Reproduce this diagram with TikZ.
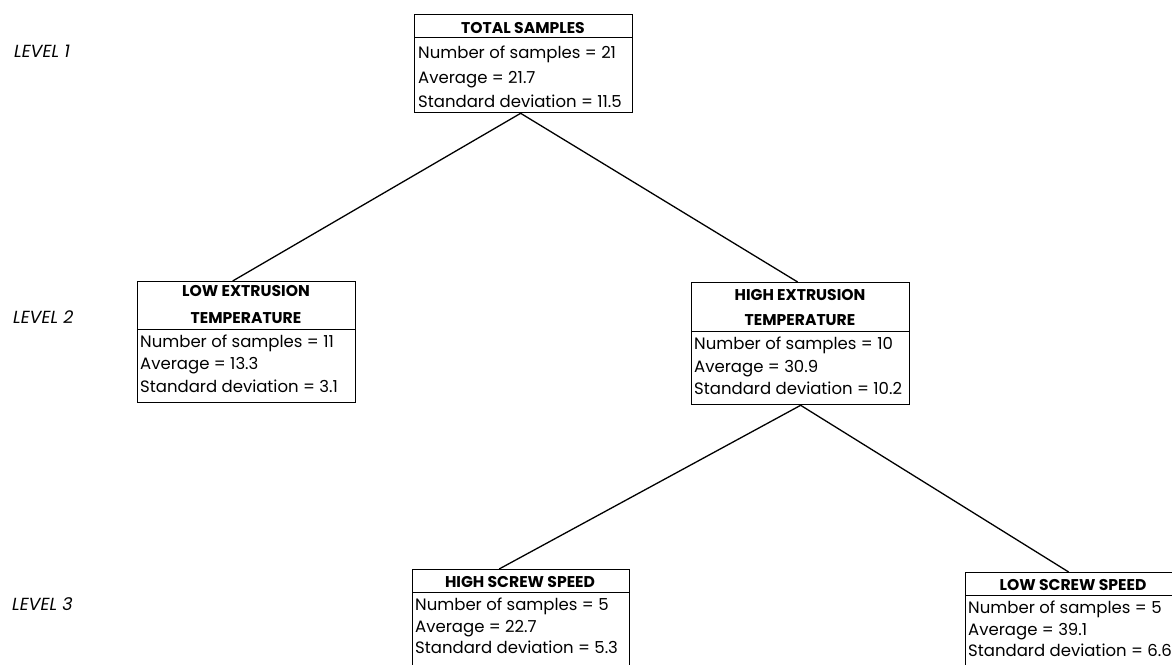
\documentclass[tikz,border=0pt]{standalone}
\usepackage{fontspec}
\setmainfont{Poppins}
\begin{document}
\begin{tikzpicture}[x=1pt,y=-1pt,
  box/.style={draw, line width=1.3pt, inner sep=0pt, anchor=north west},
  divider/.style={line width=1pt},
  head/.style={font=\bfseries\fontsize{15.6}{18}\selectfont, inner sep=0pt, anchor=base},
  body/.style={font=\fontsize{16.5}{18}\selectfont, inner sep=0pt, anchor=base west},
  lvl/.style={font=\itshape\fontsize{17.5}{19}\selectfont, inner sep=0pt, anchor=base west},
  link/.style={line width=1.3pt}]
\useasboundingbox (0,0) rectangle (1172,664);
\clip (0,0) rectangle (1172,664);

% level labels
\node[lvl] (l1) at (14,57) {LEVEL 1};
\node[lvl] (l2) at (13,323) {LEVEL 2};
\node[lvl] (l3) at (12,610) {LEVEL 3};

% top box
\node[box, minimum width=218, minimum height=98] (total) at (414,14) {};
\draw[divider] (414,37) -- (632,37);
\node[head] (totalh) at (523,33) {TOTAL SAMPLES};
\node[body] (t1) at (418,58) {Number of samples = 21};
\node[body] (t2) at (418,83) {Average = 21.7};
\node[body] (t3) at (418,107) {Standard deviation = 11.5};

% low extrusion temperature
\node[box, minimum width=218, minimum height=121] (low) at (137,281) {};
\draw[divider] (137,329) -- (355,329);
\node[head] (lowh1) at (246,296) {LOW EXTRUSION};
\node[head] (lowh2) at (246,323) {TEMPERATURE};
\node[body] (lo1) at (140,347) {Number of samples = 11};
\node[body] (lo2) at (140,369) {Average = 13.3};
\node[body] (lo3) at (140,392) {Standard deviation = 3.1};

% high extrusion temperature
\node[box, minimum width=218, minimum height=122] (high) at (691,282) {};
\draw[divider] (691,331) -- (909,331);
\node[head] (highh1) at (800,300) {HIGH EXTRUSION};
\node[head] (highh2) at (800,325) {TEMPERATURE};
\node[body] (hi1) at (694,349) {Number of samples = 10};
\node[body] (hi2) at (694,372) {Average = 30.9};
\node[body] (hi3) at (694,394) {Standard deviation = 10.2};

% high screw speed
\node[box, minimum width=217, minimum height=110] (hss) at (412,569) {};
\draw[divider] (412,592) -- (629,592);
\node[head] (hssh) at (520,587) {HIGH SCREW SPEED};
\node[body] (hs1) at (415,610) {Number of samples = 5};
\node[body] (hs2) at (415,632) {Average = 22.7};
\node[body] (hs3) at (415,653) {Standard deviation = 5.3};

% low screw speed
\node[box, minimum width=218, minimum height=110] (lss) at (965,572) {};
\draw[divider] (965,595) -- (1183,595);
\node[head] (lssh) at (1073,590) {LOW SCREW SPEED};
\node[body] (ls1) at (968,613) {Number of samples = 5};
\node[body] (ls2) at (968,635) {Average = 39.1};
\node[body] (ls3) at (968,656) {Standard deviation = 6.6};

% connectors
\draw[link] ([xshift=-3pt]total.south) -- ([xshift=-14pt]low.north);
\draw[link] ([xshift=-3pt]total.south) -- ([xshift=-3pt]high.north);
\draw[link] (high.south) -- ([xshift=-22pt]hss.north);
\draw[link] (high.south) -- ([xshift=-6pt]lss.north);
\end{tikzpicture}
\end{document}
